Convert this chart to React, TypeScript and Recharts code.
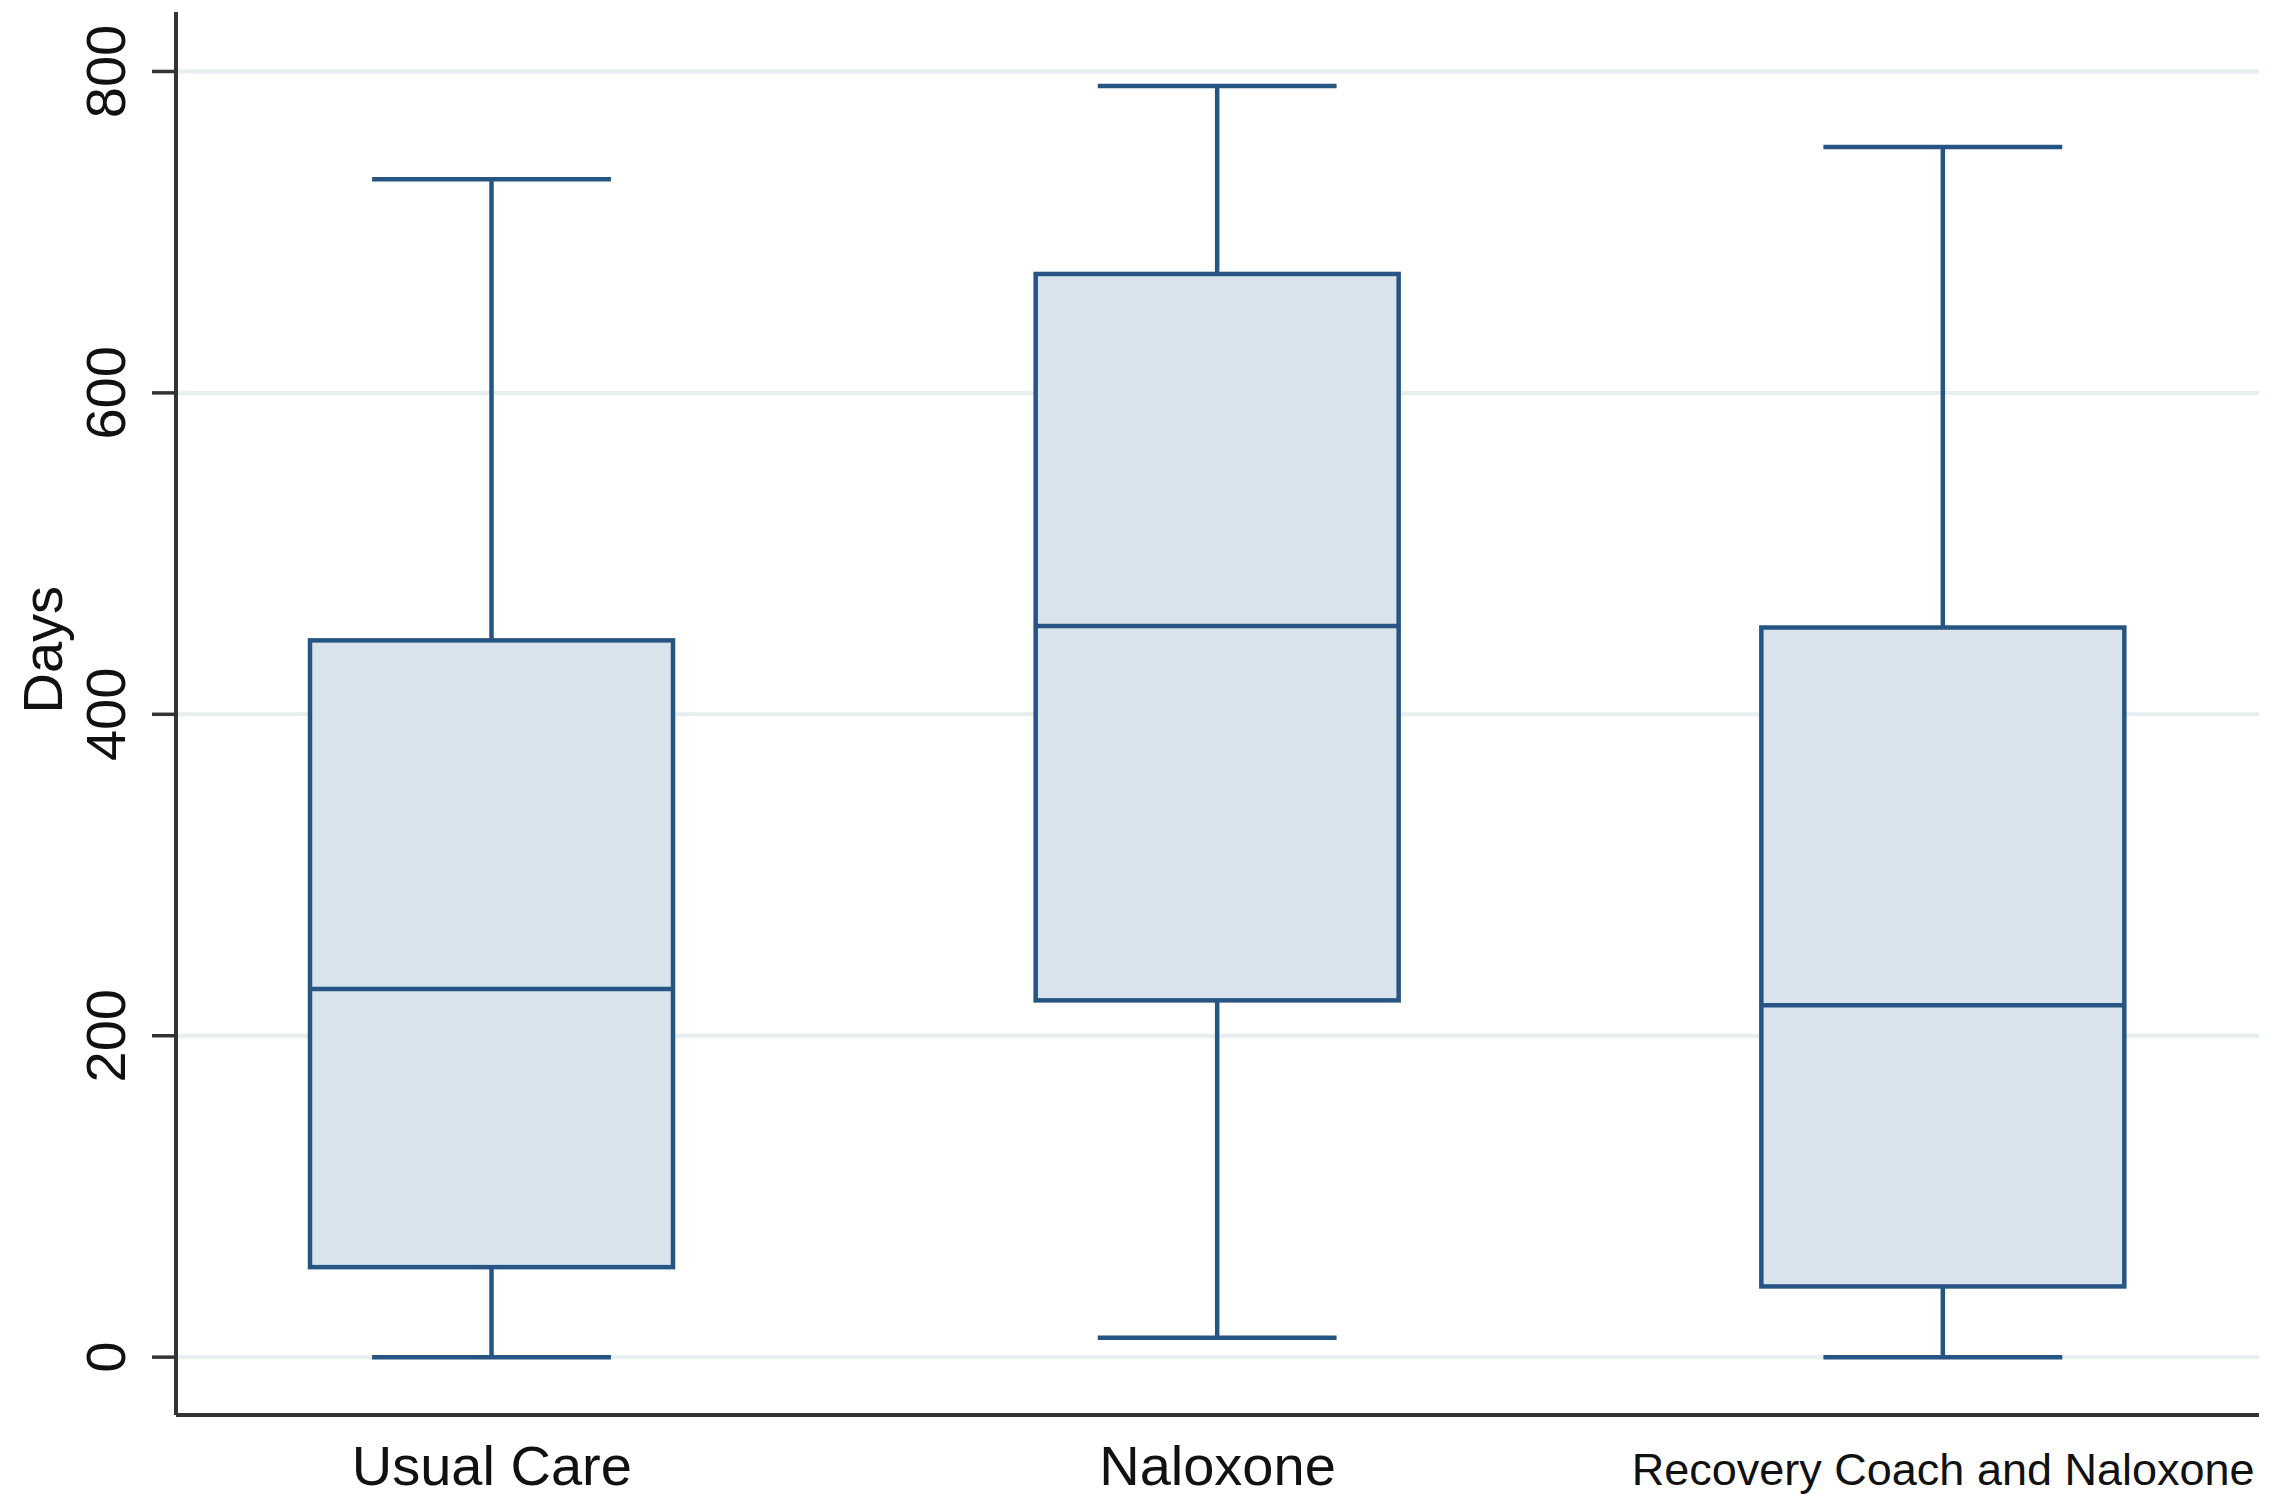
import React from 'react';
import { ComposedChart, Bar, XAxis, YAxis, CartesianGrid } from 'recharts';

const categories = ['Usual Care', 'Naloxone', 'Recovery Coach and Naloxone'];
const whiskerLow = [0, 12, 0];
const quartile1 = [56, 222, 44];
const medians = [229, 455, 219];
const quartile3 = [446, 674, 454];
const whiskerHigh = [733, 791, 753];
const yTicks = [0, 200, 400, 600, 800];

const data = categories.map((name, i) => ({
  name,
  range: [whiskerLow[i], whiskerHigh[i]],
  lo: whiskerLow[i],
  q1: quartile1[i],
  med: medians[i],
  q3: quartile3[i],
  hi: whiskerHigh[i],
}));

const STROKE = '#275583';
const FILL = '#d9e3eb';
const FONT = "'Liberation Sans', Arial, sans-serif";

const BoxShape = (props: any) => {
  const { x, y, width, height, payload } = props;
  const { lo, hi, q1, med, q3 } = payload;
  const top = Math.min(y, y + height);
  const bottom = Math.max(y, y + height);
  const py = (v: number) => top + (bottom - top) * (hi - v) / (hi - lo);
  const cx = x + width / 2;
  const capHalf = width * 0.329;
  const sw = 4.5;
  return (
    <g>
      <line x1={cx} x2={cx} y1={py(hi)} y2={py(q3)} stroke={STROKE} strokeWidth={sw} />
      <line x1={cx} x2={cx} y1={py(q1)} y2={py(lo)} stroke={STROKE} strokeWidth={sw} />
      <line x1={cx - capHalf} x2={cx + capHalf} y1={py(hi)} y2={py(hi)} stroke={STROKE} strokeWidth={sw} />
      <line x1={cx - capHalf} x2={cx + capHalf} y1={py(lo)} y2={py(lo)} stroke={STROKE} strokeWidth={sw} />
      <rect x={x} y={py(q3)} width={width} height={py(q1) - py(q3)} fill={FILL} stroke={STROKE} strokeWidth={sw} />
      <line x1={x} x2={x + width} y1={py(med)} y2={py(med)} stroke={STROKE} strokeWidth={sw} />
    </g>
  );
};

const XTick = (props: any) => {
  const { x, y, payload } = props;
  const long = String(payload.value).length > 15;
  return (
    <text x={x} y={y + 62} textAnchor="middle" fontSize={long ? 45 : 56} fill="#111" fontFamily={FONT}>
      {payload.value}
    </text>
  );
};

const YTick = (props: any) => {
  const { x, y, payload } = props;
  const tx = x - 25;
  return (
    <text x={tx} y={y} textAnchor="middle" fontSize={56} fill="#111" fontFamily={FONT}
      transform={`rotate(-90 ${tx} ${y})`}>
      {payload.value}
    </text>
  );
};

export default function App() {
  return (
    <div style={{ position: 'absolute', left: 0, top: 0, background: '#fff' }}>
      <ComposedChart width={2285} height={1494} data={data}
        margin={{ top: 12, right: 26, bottom: 0, left: 0 }}>
        <CartesianGrid vertical={false} horizontalValues={yTicks} stroke="#e6eeef" strokeWidth={4} />
        <XAxis dataKey="name" type="category" height={79} padding={{ left: -47, right: -47 }}
          axisLine={{ stroke: '#333', strokeWidth: 4 }} tickLine={false} tick={<XTick />} interval={0} />
        <YAxis type="number" width={176} domain={[-36, 837]} ticks={yTicks} allowDataOverflow
          axisLine={{ stroke: '#333', strokeWidth: 4 }} tickLine={{ stroke: '#333', strokeWidth: 3.5 }} tickSize={24}
          tick={<YTick />}
          label={{ value: 'Days', angle: -90, position: 'insideLeft', offset: 0, fontSize: 56, fill: '#111',
            fontFamily: FONT, dx: 42 }} />
        <Bar dataKey="range" barSize={363} shape={<BoxShape />} isAnimationActive={false} />
      </ComposedChart>
    </div>
  );
}
